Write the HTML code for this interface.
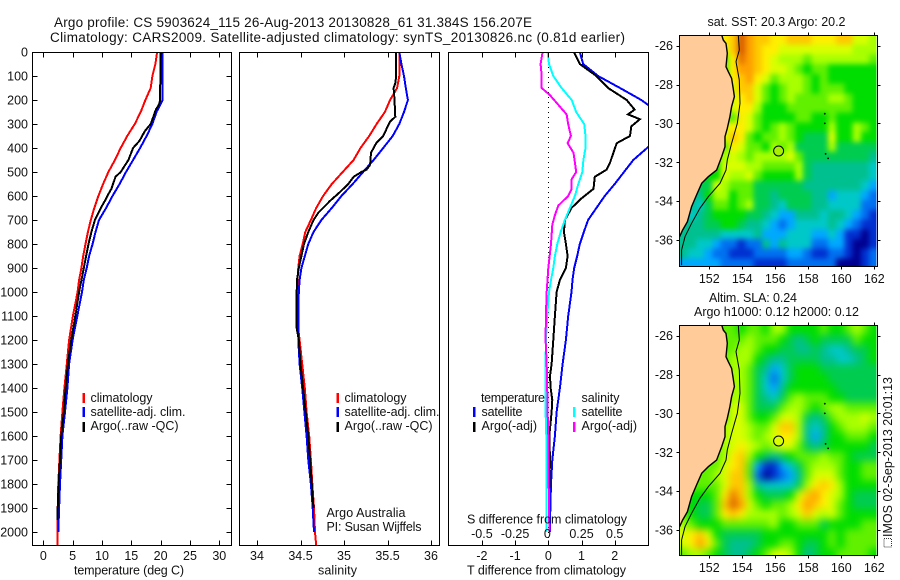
<!DOCTYPE html>
<html>
<head>
<meta charset="utf-8">
<title>Argo profile</title>
<style>
html,body{margin:0;padding:0;background:#fff;}
svg{display:block;font-family:"Liberation Sans",sans-serif;font-size:12.5px;fill:#000;}
text{fill:#111;}
</style>
</head>
<body>
<svg id="chart" xmlns="http://www.w3.org/2000/svg" width="900" height="580" viewBox="0 0 900 580">
<defs>
<clipPath id="clip-temp"><rect x="32" y="52" width="200" height="494"/></clipPath>
<clipPath id="clip-sal"><rect x="239" y="52" width="201" height="494"/></clipPath>
<clipPath id="clip-diff"><rect x="448" y="52" width="201" height="494"/></clipPath>
<clipPath id="clip-map1"><rect x="679.5" y="35" width="197" height="232"/></clipPath>
<clipPath id="clip-map2"><rect x="679.5" y="325" width="197" height="231"/></clipPath>
<filter id="blur-sst" x="-10%" y="-10%" width="120%" height="120%" color-interpolation-filters="sRGB"><feGaussianBlur stdDeviation="2.6"/></filter>
<filter id="blur-sla" x="-10%" y="-10%" width="120%" height="120%" color-interpolation-filters="sRGB"><feGaussianBlur stdDeviation="4"/></filter>
</defs>
<rect x="0" y="0" width="900" height="580" fill="#fff"/>

<text x="54" y="27" font-size="13.5" textLength="478" lengthAdjust="spacing">Argo profile: CS 5903624_115 26-Aug-2013 20130828_61 31.384S 156.207E</text>
<text x="50" y="42" font-size="13.5" textLength="575" lengthAdjust="spacing">Climatology: CARS2009. Satellite-adjusted climatology: synTS_20130826.nc (0.81d earlier)</text>

<g id="panels"></g>
<g id="maps"></g>

<text x="74" y="574.5" textLength="110" lengthAdjust="spacing">temperature (deg C)</text>
<text x="318" y="574.5" textLength="39" lengthAdjust="spacing">salinity</text>
<text x="467" y="574.5" textLength="159" lengthAdjust="spacing">T difference from climatology</text>
<text x="467" y="523.5" textLength="160" lengthAdjust="spacing">S difference from climatology</text>

<rect x="82.5" y="393" width="2.5" height="10" fill="#f00"/>
<rect x="82.5" y="407" width="2.5" height="10" fill="#00f"/>
<rect x="82.5" y="422" width="2.5" height="10" fill="#000"/>
<text x="90.5" y="402" textLength="62" lengthAdjust="spacing">climatology</text>
<text x="90.5" y="416" textLength="95" lengthAdjust="spacing">satellite-adj. clim.</text>
<text x="90.5" y="430" textLength="88" lengthAdjust="spacing">Argo(..raw -QC)</text>

<rect x="336.5" y="393" width="2.5" height="10" fill="#f00"/>
<rect x="336.5" y="407" width="2.5" height="10" fill="#00f"/>
<rect x="336.5" y="422" width="2.5" height="10" fill="#000"/>
<text x="344.5" y="402" textLength="62" lengthAdjust="spacing">climatology</text>
<text x="344.5" y="416" textLength="95" lengthAdjust="spacing">satellite-adj. clim.</text>
<text x="344.5" y="430" textLength="88" lengthAdjust="spacing">Argo(..raw -QC)</text>

<text x="326.5" y="517" textLength="79" lengthAdjust="spacing">Argo Australia</text>
<text x="326.5" y="531" textLength="95" lengthAdjust="spacing">PI: Susan Wijffels</text>

<text x="481" y="402" textLength="64" lengthAdjust="spacing">temperature</text>
<rect x="473" y="407" width="2.5" height="10" fill="#00f"/>
<rect x="473" y="422" width="2.5" height="10" fill="#000"/>
<text x="481.5" y="416" textLength="41" lengthAdjust="spacing">satellite</text>
<text x="481.5" y="430" textLength="55.5" lengthAdjust="spacing">Argo(-adj)</text>
<text x="581.5" y="402" textLength="38" lengthAdjust="spacing">salinity</text>
<rect x="573" y="407" width="2.5" height="10" fill="#0ff"/>
<rect x="573" y="422" width="2.5" height="10" fill="#f0f"/>
<text x="581.5" y="416" textLength="41" lengthAdjust="spacing">satellite</text>
<text x="581.5" y="430" textLength="55.5" lengthAdjust="spacing">Argo(-adj)</text>

<text x="707.5" y="26" textLength="138" lengthAdjust="spacing">sat. SST: 20.3 Argo: 20.2</text>
<text x="709" y="302" textLength="88" lengthAdjust="spacing">Altim. SLA: 0.24</text>
<text x="694" y="316" textLength="165" lengthAdjust="spacing">Argo h1000: 0.12 h2000: 0.12</text>

<rect x="884" y="538.5" width="7.5" height="8.5" fill="none" stroke="#333" stroke-width="1" stroke-dasharray="1 1"/>
<text transform="translate(892,537) rotate(-90)" x="0" y="0" textLength="160" lengthAdjust="spacing">IMOS 02-Sep-2013 20:01:13</text>

<script>
// ---------- profile data ----------
const depthsCommon = [0,50,100,150,200,250,300,350,400,450,500,550,600,650,700,750,800,850,900,950,1000,1100,1200,1300,1400,1500,1600,1700,1800,1900,2000];
const depthsClimFull = [0,50,100,150,200,250,300,350,400,450,500,550,600,650,700,750,800,850,900,950,1000,1100,1200,1300,1400,1500,1600,1700,1800,1900,2000,2057];

const tempClim = [19.4,19.1,18.6,18.3,17.4,16.6,15.6,14.3,13.2,12.2,11.1,10.2,9.4,8.7,8.1,7.6,7.2,6.8,6.5,6.1,5.85,5.05,4.4,4.0,3.6,3.25,2.95,2.75,2.55,2.45,2.45,2.45];
const tempSat = [20.35,20.35,20.35,20.35,20.35,19.3,18.6,17.6,16.5,15.3,14.1,13,11.8,10.7,9.5,8.9,8.4,7.8,7.4,6.9,6.6,5.8,5,4.4,4.1,3.7,3.25,3.05,2.85,2.7,2.55];
const tempArgoDepths = [0,200,220,240,270,300,330,370,400,450,500,520,570,600,620,650,700,750,800,850,900,1000,1100,1200,1300,1400,1500,1600,1700,1800,1900,1950];
const tempArgo = [20,19.9,19.7,19.2,18.75,18.3,17.3,16.4,15.3,14.5,13.2,12.3,11.6,10.9,10.5,9.8,8.8,8.2,7.7,7.3,6.9,6.1,5.45,4.75,4.2,3.8,3.5,3.05,2.85,2.6,2.45,2.4];

const salClim = [35.636,35.64,35.636,35.61,35.53,35.47,35.375,35.29,35.19,35.11,34.985,34.86,34.76,34.68,34.62,34.555,34.525,34.49,34.475,34.465,34.46,34.456,34.49,34.52,34.55,34.57,34.6,34.62,34.636,34.655,34.667,34.68];
const salSat = [35.636,35.66,35.69,35.71,35.735,35.69,35.636,35.56,35.45,35.34,35.22,35.1,34.97,34.86,34.74,34.65,34.59,34.55,34.51,34.49,34.48,34.475,34.475,34.49,34.52,34.545,34.57,34.59,34.62,34.64,34.655];
const salArgoDepths = [0,100,130,150,170,200,270,290,320,350,380,420,470,490,500,520,550,590,620,670,700,750,800,850,900,950,1000,1100,1150,1200,1300,1400,1500,1600,1700,1800,1900];
const salArgo = [35.6,35.6,35.59,35.57,35.575,35.58,35.59,35.53,35.49,35.45,35.37,35.31,35.3,35.26,35.2,35.11,35.05,34.935,34.84,34.705,34.65,34.59,34.54,34.51,34.48,34.46,34.456,34.456,34.456,34.48,34.5,34.53,34.56,34.59,34.61,34.63,34.65];

const diffTSatDepths = [0,50,100,150,200,220,250,300,350,397,450,500,550,600,650,700,750,800,850,900,950,1000,1100,1200,1300,1400,1500,1600,1700,1800,1900,2000];
const diffTSat = [0.95,1.05,1.5,2.16,2.8,3,3.3,3.5,3.3,3,2.56,2.28,2,1.7,1.45,1.2,1.07,0.95,0.87,0.78,0.73,0.7,0.6,0.53,0.43,0.35,0.25,0.2,0.12,0.08,0.06,0.05];
const diffTArgoDepths = [0,50,100,150,200,240,260,280,310,350,380,420,460,490,520,570,610,650,700,750,800,850,900,950,1000,1100,1200,1300,1350,1400,1450,1500,1600,1700,1800,1900];
const diffTArgo = [0.77,0.95,1.45,1.8,2.36,2.6,2.4,2.76,2.5,2.46,2.06,1.96,1.86,1.76,1.4,1.36,1,0.7,0.5,0.47,0.53,0.58,0.53,0.35,0.25,0.2,0.15,0.1,0.05,0.07,0.12,0.1,0.03,0.05,0.03,0.02];
const diffSSat = [-0.005,0.005,0.038,0.1,0.176,0.21,0.27,0.28,0.28,0.264,0.256,0.226,0.2,0.163,0.125,0.093,0.068,0.05,0.038,0.02,0.005,-0.008,-0.018,-0.02,-0.02,-0.02,-0.015,-0.015,-0.015,-0.015,-0.015];
const diffSArgoDepths = [0,50,100,150,180,220,260,300,350,380,420,460,500,530,570,600,640,680,720,800,900,1000,1100,1200,1300,1400,1500,1600,1700,1800,1900,2000];
const diffSArgo = [-0.043,-0.058,-0.05,-0.05,0.013,0.075,0.138,0.15,0.17,0.145,0.19,0.2,0.21,0.176,0.176,0.15,0.075,0.05,0.03,0.02,0,-0.012,-0.018,-0.02,-0.012,-0.008,-0.005,0,0,0.003,0.005,0.008];

// ---------- tick labels ----------
const depthTicks = [0,100,200,300,400,500,600,700,800,900,1000,1100,1200,1300,1400,1500,1600,1700,1800,1900,2000];
const tempTicks = [0,5,10,15,20,25,30];
const salTicks = [34,34.5,35,35.5,36];
const diffTTicks = [-2,-1,0,1,2];
const diffSTicks = [-0.5,-0.25,0,0.25,0.5];
const lonTicks = [152,154,156,158,160,162];
const latTicks = [-26,-28,-30,-32,-34,-36];

// ---------- map data (colour level per half-degree cell, north to south, west to east) ----------
const sstGrid = [
[11,11,11,11,11,11,12,15,13,12,12,11,11,12,12,12,11,11,11,12,12,10,10,9],
[11,11,11,11,11,10,12,15,13,12,11,11,10,10,10,10,10,10,10,10,10,9,9,9],
[8,8,8,8,8,8,11,14,13,12,11,10,9,9,9,8,9,9,9,9,9,9,9,8],
[8,8,8,8,8,8,11,13,13,12,11,10,10,9,8,7,8,8,7,7,7,7,7,7],
[8,8,8,8,8,8,11,12,13,11,10,8,9,9,9,8,7,8,7,7,7,7,7,7],
[8,8,8,8,8,8,10,12,12,10,8,7,8,9,9,8,7,8,8,8,7,7,7,7],
[8,8,8,8,8,8,10,11,12,10,8,7,8,9,8,8,8,8,9,9,8,7,7,7],
[8,8,8,8,8,8,10,11,11,9,7,7,7,8,8,8,8,8,8,8,8,7,7,7],
[8,8,8,8,8,8,8,11,10,8,7,7,7,7,8,8,7,7,8,7,7,7,7,7],
[8,8,8,8,8,10,11,11,10,8,7,8,9,8,7,7,7,7,9,7,7,9,8,7],
[8,8,8,8,8,10,12,11,8,7,8,8,9,8,7,6,6,6,10,7,7,9,7,7],
[8,8,8,8,8,8,11,10,8,8,7,9,8,9,6,6,6,6,9,6,6,6,6,6],
[8,8,8,8,8,9,10,9,8,9,9,9,9,10,8,6,6,6,6,6,6,6,6,5],
[7,7,7,7,7,10,10,10,9,9,8,8,8,8,9,6,5,5,5,5,5,5,5,4],
[7,7,7,7,7,10,9,9,10,8,7,7,7,7,9,6,5,5,5,5,5,5,5,4],
[6,6,6,6,10,9,8,8,8,6,6,6,6,6,6,5,5,5,5,5,5,5,4,3],
[5,5,5,7,9,9,7,8,8,6,6,5,6,6,6,6,5,5,3,4,4,4,3,2],
[5,5,4,6,8,8,7,8,9,6,6,5,4,6,6,6,5,5,4,4,4,4,2,2],
[4,4,5,6,7,7,7,7,6,6,5,4,3,3,5,5,5,4,5,5,4,3,2,1],
[5,5,5,6,6,7,7,6,5,5,4,3,2,3,4,4,4,4,5,4,3,2,1,1],
[5,5,5,5,5,4,4,4,4,5,3,3,3,4,4,4,3,3,4,3,1,1,0,1],
[5,5,4,4,3,2,2,1,2,2,5,3,5,4,4,4,2,2,3,3,1,0,0,1],
[5,4,4,3,2,2,1,1,1,2,2,2,2,3,3,2,1,1,2,2,1,0,1,2],
[3,3,3,3,3,2,2,2,2,1,1,1,1,2,2,2,2,2,2,0,0,0,1,2]
];
const slaGrid = [
[8,8,8,8,8,8,8,7,8,8,7,9,9,7,7,7,7,8,7,7,8,9,8,7],
[8,8,8,8,8,8,8,8,9,8,8,8,7,6,5,6,7,6,6,6,6,8,7,7],
[8,8,8,8,8,8,8,9,9,8,7,7,6,6,5,5,6,5,4,4,5,6,6,7],
[8,8,8,8,8,8,9,9,9,7,6,5,5,6,6,6,6,5,5,4,4,5,6,7],
[8,8,8,8,8,8,9,9,8,6,5,3,4,6,7,7,7,6,6,6,6,6,6,6],
[8,8,8,8,8,8,9,9,8,6,4,2,4,6,7,7,7,7,6,6,6,6,6,6],
[8,8,8,8,8,8,9,9,8,6,4,3,5,7,7,7,7,7,7,6,6,6,6,6],
[8,8,8,8,8,8,9,9,8,6,5,4,6,8,9,8,8,8,7,7,6,6,6,6],
[8,8,8,8,8,8,10,10,8,6,6,6,8,9,9,8,7,8,9,9,8,8,8,8],
[8,8,8,8,8,8,10,10,8,7,7,8,10,10,9,6,5,6,8,9,9,9,10,9],
[8,8,8,8,8,9,10,10,9,8,8,10,12,12,9,5,4,5,7,8,9,9,9,8],
[8,8,8,8,8,9,10,10,9,8,9,10,11,11,9,5,3,5,7,7,8,8,8,7],
[8,8,8,8,8,9,10,11,10,9,8,9,10,10,8,6,5,6,7,7,7,7,7,6],
[8,8,8,8,8,9,11,12,9,7,6,5,6,7,8,8,8,9,8,8,7,6,6,6],
[8,8,8,8,8,10,11,12,8,3,1,1,3,4,6,8,9,9,9,8,7,7,8,8],
[8,8,8,8,9,10,12,12,8,2,0,1,2,3,5,8,10,10,10,8,7,7,8,8],
[8,8,8,8,8,10,12,12,9,5,4,4,4,4,6,9,11,12,11,9,7,7,7,7],
[7,7,7,7,8,11,14,12,9,7,6,6,6,7,10,12,13,11,10,9,7,6,6,6],
[7,7,6,6,8,12,15,13,10,8,7,8,8,9,11,13,12,11,10,8,7,6,6,6],
[8,7,6,6,8,11,12,11,9,9,9,9,8,9,10,12,10,9,10,8,7,7,7,7],
[9,8,7,7,7,8,8,8,8,8,8,9,7,7,8,8,8,6,7,7,7,7,8,8],
[10,11,12,10,7,6,6,6,6,6,7,7,7,7,7,7,7,7,8,7,8,8,8,8],
[10,11,13,11,8,6,5,5,5,6,7,7,8,8,7,6,6,7,8,7,8,8,8,8],
[8,9,9,8,7,6,5,5,6,7,8,10,10,9,7,5,6,7,7,8,8,8,8,7]
];
const levelColors = ['#000090','#0030d0','#0070f0','#00a8ff','#00c8c8','#00c090','#00cc50','#00dd00','#60f000','#a8ff00','#d8ff00','#ffee00','#ffc800','#ffa000','#e87800','#d86000'];

// ---------- coastline and isobath ----------
const coastLon = [152.75,152.85,153.01,153.09,153.01,153.15,153.35,153.45,153.52,153.35,153.25,153.09,152.95,152.95,152.75,152.44,151.94,151.54,151.23,150.93,150.67,150.38,150.18];
const coastLat = [-25.45,-25.71,-25.88,-26.39,-27.08,-27.34,-27.68,-28.2,-28.62,-29.14,-29.65,-30.25,-30.68,-31.2,-31.71,-32.4,-32.74,-33.08,-33.68,-34.28,-35.06,-35.49,-35.86];
const isoLon = [153.76,153.82,153.62,153.82,153.86,153.7,153.35,153.09,153.01,152.65,151.94,151.43,150.93,150.53,150.32,150.32];
const isoLat = [-25.45,-26.22,-26.82,-27.77,-28.97,-30,-31.03,-31.88,-32.4,-33.08,-33.77,-34.37,-35.14,-35.83,-36.51,-37.29];
const islandLon = [159,159,159.05,159.2];
const islandLat = [-29.5,-30,-31.57,-31.8];
const argoLon = [156.2];
const argoLat = [-31.42];

// ---------- scales ----------
const NS = 'http://www.w3.org/2000/svg';
const depthY = d => 52 + d * 0.24;
const tempX = t => 43.3 + t * 5.867;
const salX = s => 257 + (s - 34) * 87;
const diffTX = t => 548.3 + t * 33.2;
const diffSX = s => 548.3 + s * 132.8;
const lonX = lon => 709.3 + (lon - 152) * 16.5;
const latY = (lat, offset) => 45.7 + offset + (-26 - lat) * 19.43;

function make(tag, parent, attrs) {
  const el = document.createElementNS(NS, tag);
  for (const k in attrs) el.setAttribute(k, attrs[k]);
  parent.appendChild(el);
  return el;
}

const panels = document.getElementById('panels');
const maps = document.getElementById('maps');

function drawSeries(name, depths, values, xFn, color, clip) {
  const pts = values.map((v, i) => xFn(v).toFixed(1) + ',' + depthY(depths[i]).toFixed(1)).join(' ');
  const el = make('polyline', panels, {points: pts, fill: 'none', stroke: color, 'stroke-width': 2, 'clip-path': 'url(#' + clip + ')', 'shape-rendering': 'crispEdges'});
  
  
}

function drawFrame(name, x0, x1, y0, y1, parent) {
  const el = make('rect', parent, {x: x0, y: y0, width: x1 - x0, height: y1 - y0, fill: 'none', stroke: '#000', 'stroke-width': 1, 'shape-rendering': 'crispEdges'});
  
  
}

function drawTick(name, x1, y1, x2, y2, parent) {
  const el = make('line', parent, {x1: x1, y1: y1, x2: x2, y2: y2, stroke: '#000', 'stroke-width': 1, 'shape-rendering': 'crispEdges'});
  
  
}

function drawLabel(name, str, x, y, anchor, parent) {
  const el = make('text', parent, {x: x, y: y, 'text-anchor': anchor});
  el.textContent = str;
  
  
}

// dotted zero line
const zeroLine = make('line', panels, {x1: 548.5, y1: 52, x2: 548.5, y2: 545, stroke: '#000', 'stroke-width': 1, 'stroke-dasharray': '1 4', 'shape-rendering': 'crispEdges'});



// series
drawSeries('temperature-climatology-line', depthsClimFull, tempClim, tempX, '#f00', 'clip-temp');
drawSeries('temperature-satellite-line', depthsCommon, tempSat, tempX, '#00f', 'clip-temp');
drawSeries('temperature-argo-line', tempArgoDepths, tempArgo, tempX, '#000', 'clip-temp');
drawSeries('salinity-climatology-line', depthsClimFull, salClim, salX, '#f00', 'clip-sal');
drawSeries('salinity-satellite-line', depthsCommon, salSat, salX, '#00f', 'clip-sal');
drawSeries('salinity-argo-line', salArgoDepths, salArgo, salX, '#000', 'clip-sal');
drawSeries('t-difference-satellite-line', diffTSatDepths, diffTSat, diffTX, '#00f', 'clip-diff');
drawSeries('t-difference-argo-line', diffTArgoDepths, diffTArgo, diffTX, '#000', 'clip-diff');
drawSeries('s-difference-satellite-line', depthsCommon, diffSSat, diffSX, '#0ff', 'clip-diff');
drawSeries('s-difference-argo-line', diffSArgoDepths, diffSArgo, diffSX, '#f0f', 'clip-diff');

// frames
drawFrame('temperature-panel-frame', 32.5, 231.5, 52.5, 545.5, panels);
drawFrame('salinity-panel-frame', 239.5, 439.5, 52.5, 545.5, panels);
drawFrame('difference-panel-frame', 448.5, 648.5, 52.5, 545.5, panels);

// depth ticks on first panel
depthTicks.forEach(d => {
  const y = Math.round(depthY(d)) + 0.5;
  drawTick('depth-tick-left', 32.5, y, 37.5, y, panels);
  drawTick('depth-tick-right', 231.5, y, 226.5, y, panels);
  drawLabel('depth-tick-label', String(d), 28, depthY(d) + 4.5, 'end', panels);
});

function bottomTopTicks(name, vals, xFn) {
  vals.forEach(v => {
    const x = Math.round(xFn(v)) + 0.5;
    drawTick(name + '-tick-top', x, 52.5, x, 57.5, panels);
    drawTick(name + '-tick-bottom', x, 545.5, x, 540.5, panels);
    drawLabel(name + '-tick-label', String(v), xFn(v), 560, 'middle', panels);
  });
}
bottomTopTicks('temperature', tempTicks, tempX);
bottomTopTicks('salinity', salTicks, salX);
bottomTopTicks('t-difference', diffTTicks, diffTX);
diffSTicks.forEach(v => {
  drawLabel('s-difference-tick-label', String(v), diffSX(v) - (v === 0 ? 1 : 0), 538, 'middle', panels);
});

// maps
function drawMap(prefix, grid, offset, clipId, blurId, circleFill, top, bottom) {
  const group = make('g', maps, {'clip-path': 'url(#' + clipId + ')'});
  
  
  const cells = make('g', group, {filter: 'url(#' + blurId + ')', 'shape-rendering': 'crispEdges'});
  
  
  const lon0 = 150.18, lat0 = -25.45, step = 0.5;
  grid.forEach((row, j) => {
    row.forEach((v, i) => {
      let x = lonX(lon0 + i * step), x2 = lonX(lon0 + (i + 1) * step);
      let y = latY(lat0 - j * step, offset), y2 = latY(lat0 - (j + 1) * step, offset);
      if (i === 0) x -= 14;
      if (i === row.length - 1) x2 += 14;
      if (j === 0) y -= 14;
      if (j === grid.length - 1) y2 += 14;
      const lvl = Math.max(0, Math.min(levelColors.length - 1, Math.round(v)));
      const c = make('rect', cells, {x: x.toFixed(2), y: y.toFixed(2), width: (x2 - x + 0.3).toFixed(2), height: (y2 - y + 0.3).toFixed(2), fill: levelColors[lvl]});
      
      
    });
  });
  // land
  let landPts = lonX(150.18 - 0.2).toFixed(1) + ',' + latY(-25.2, offset).toFixed(1) + ' ';
  landPts += lonX(coastLon[0]).toFixed(1) + ',' + latY(-25.2, offset).toFixed(1) + ' ';
  landPts += coastLon.map((lo, i) => lonX(lo).toFixed(1) + ',' + latY(coastLat[i], offset).toFixed(1)).join(' ');
  landPts += ' ' + lonX(150.0).toFixed(1) + ',' + latY(-35.86, offset).toFixed(1);
  const land = make('polygon', group, {points: landPts, fill: '#ffcc99'});
  
  
  const coast = make('polyline', group, {points: coastLon.map((lo, i) => lonX(lo).toFixed(1) + ',' + latY(coastLat[i], offset).toFixed(1)).join(' '), fill: 'none', stroke: '#000', 'stroke-width': 1.4});
  
  
  const iso = make('polyline', group, {points: isoLon.map((lo, i) => lonX(lo).toFixed(1) + ',' + latY(isoLat[i], offset).toFixed(1)).join(' '), fill: 'none', stroke: '#000', 'stroke-width': 1});
  
  
  islandLon.forEach((lo, i) => {
    const isl = make('circle', group, {cx: lonX(lo).toFixed(1), cy: latY(islandLat[i], offset).toFixed(1), r: 0.9, fill: '#000'});
    
    
  });
  const argo = make('circle', group, {cx: lonX(argoLon[0]).toFixed(1), cy: latY(argoLat[0], offset).toFixed(1), r: 5, fill: circleFill, stroke: '#000', 'stroke-width': 1});
  
  

  drawFrame(prefix + '-map-frame', 679.5, 877.5, top, bottom, maps);
  lonTicks.forEach(lo => {
    const x = Math.round(lonX(lo)) + 0.5;
    drawTick(prefix + '-lon-tick-top', x, top, x, top - 3, maps);
    drawTick(prefix + '-lon-tick-bottom', x, bottom, x, bottom + 3, maps);
    drawLabel(prefix + '-lon-label', String(lo), lonX(lo), bottom + 16.5, 'middle', maps);
  });
  latTicks.forEach(la => {
    const y = Math.round(latY(la, offset)) + 0.5;
    drawTick(prefix + '-lat-tick-left', 679.5, y, 676.5, y, maps);
    drawTick(prefix + '-lat-tick-right', 877.5, y, 880.5, y, maps);
    drawLabel(prefix + '-lat-label', String(la), 673, latY(la, offset) + 4.5, 'end', maps);
  });
}
drawMap('sst', sstGrid, 0, 'clip-map1', 'blur-sst', '#a8f000', 35.5, 266.5);
drawMap('sla', slaGrid, 290, 'clip-map2', 'blur-sla', '#d8ff00', 325.5, 555.5);
</script>
</svg>
</body>
</html>
